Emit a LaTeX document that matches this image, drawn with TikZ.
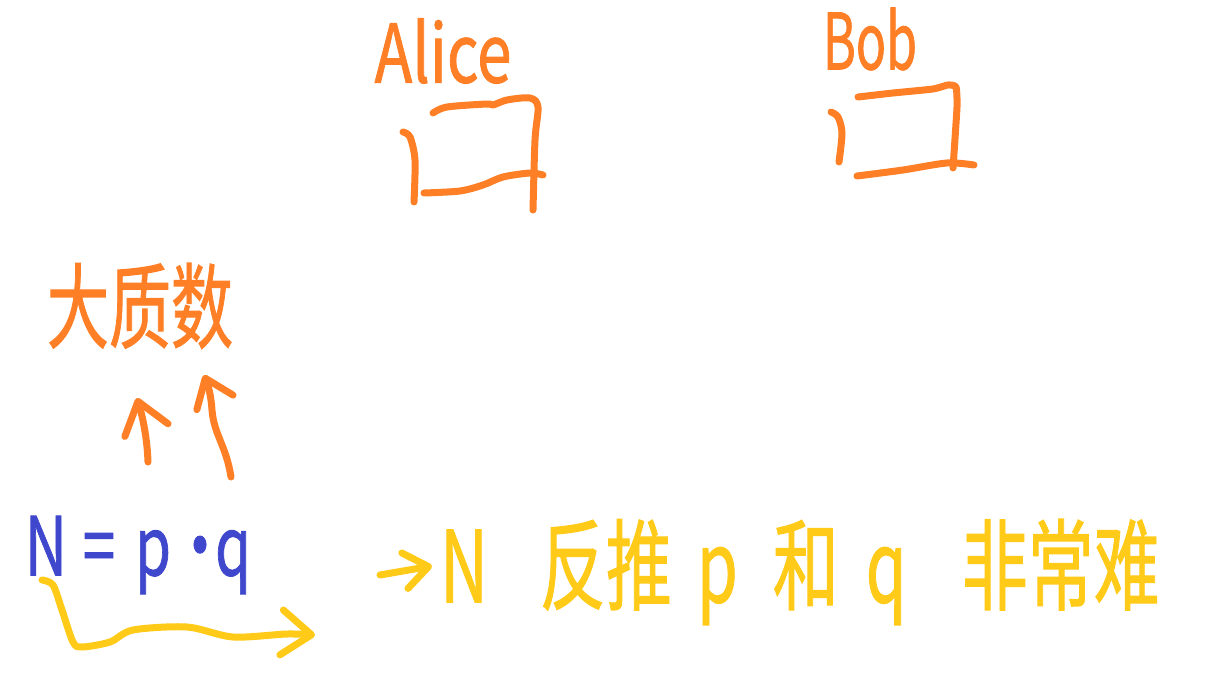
\documentclass[tikz,border=0pt]{standalone}
\usepackage{fontspec}
\usepackage{tikz}
\usetikzlibrary{arrows.meta}
\newfontfamily\penfont{Noto Sans CJK SC}[FakeBold=1.2]
\definecolor{penorange}{HTML}{FF7F27}
\definecolor{penyellow}{HTML}{FFCA18}
\definecolor{penblue}{HTML}{3F48CC}
\tikzset{
  orangeline/.style={draw=penorange,line width=7pt,line cap=round,line join=round},
  yellowline/.style={draw=penyellow,line width=7pt,line cap=round,line join=round},
  barb/.style={-{Straight Barb[length=#1pt,width=1.5*#1pt,round]}}
}
\begin{document}
\begin{tikzpicture}[x=1pt,y=-1pt]
\useasboundingbox (0,0) rectangle (1212,682);
\begin{scope}[every node/.style={inner sep=0pt,text=penorange,font=\penfont,transform shape}]
    \node[yscale=1.3] (alice) at (443,51) {\fontsize{62}{70}\selectfont Alice};
    \node[yscale=1.55] (bob) at (870,39) {\fontsize{50}{60}\selectfont Bob};
    \node[yscale=1.5] (prime) at (140,306) {\fontsize{62}{70}\selectfont 大质数};
    \node[yscale=1.4,text=penblue] (product) at (138,555) {\fontsize{58}{70}\selectfont N\hspace{16pt}=\hspace{20pt}p\hspace{0pt}·\hspace{-14pt}q};
    \node[yscale=1.5,text=penyellow] (note) at (800,572) {\fontsize{66}{76}\selectfont N\hspace{52pt}反推\hspace{25pt}p\hspace{35pt}和\hspace{27pt}q\hspace{55pt}非常难};
\end{scope}
% box under Alice
\draw[orangeline] plot[smooth,tension=0.5] coordinates {(433,113) (447,107) (487,104) (493,105) (507,100) (530,98) (538,107) (535,140) (533,210)};
\draw[orangeline] plot[smooth,tension=0.5] coordinates {(403,132) (410,137) (415,160) (414,202)};
\draw[orangeline] plot[smooth,tension=0.5] coordinates {(424,193) (460,191) (483,185) (503,177) (530,173) (543,175)};
% box under Bob
\draw[orangeline] plot[smooth,tension=0.3] coordinates {(858,97) (893,93) (933,89) (948,85) (956,87) (957,107) (953,168)};
\draw[orangeline] plot[smooth,tension=0.5] coordinates {(831,112) (838,117) (842,133) (839,162)};
\draw[orangeline] plot[smooth,tension=0.5] coordinates {(857,176) (903,170) (947,163) (974,165)};
% arrows
\coordinate (s1) at (148,462);
\coordinate (t1) at (137,398);
\coordinate (s2) at (231,477);
\coordinate (t2) at (204,375);
\coordinate (s3) at (42,580);
\coordinate (t3) at (315,635);
\coordinate (s4) at (380,575);
\coordinate (t4) at (432,566);
\draw[orangeline,barb=30] (s1) .. controls (147,435) and (142,415) .. (t1);
\draw[orangeline,barb=26] (s2) .. controls (226,445) and (214,435) .. (212,410) .. controls (211,395) and (208,385) .. (t2);
\draw[yellowline,barb=30] plot[smooth,tension=0.5] coordinates {(s3) (53,585) (62,610) (73,642) (82,647) (110,642) (133,630) (187,627) (233,637) (287,634) (t3)};
\draw[yellowline,barb=24] (s4) -- (t4);
\end{tikzpicture}
\end{document}
